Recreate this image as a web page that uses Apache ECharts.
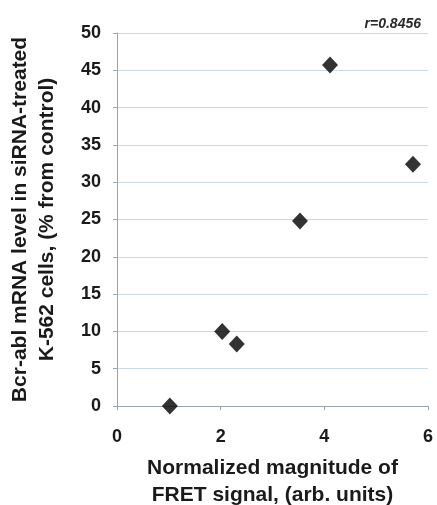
<!DOCTYPE html>
<html><head><meta charset="utf-8">
<script src="https://cdn.jsdelivr.net/npm/echarts@6/dist/echarts.min.js"></script>
<style>html,body{margin:0;padding:0;background:#fff}#c{width:437px;height:505px}</style>
</head><body><div id="c"></div>
<script>
const xValues = [1.02, 2.03, 2.31, 3.53, 4.11, 5.71];
const yValues = [0, 10.0, 8.3, 24.8, 45.7, 32.4];
const xTicks = [0, 2, 4, 6];
const yTicks = [0, 5, 10, 15, 20, 25, 30, 35, 40, 45, 50];
const xTitle = 'Normalized magnitude of\nFRET signal, (arb. units)';
const yTitle = 'Bcr-abl mRNA level in siRNA-treated\nK-562 cells, (% from control)';
const rText = 'r=0.8456';

const chart = echarts.init(document.getElementById('c'), null, {renderer: 'canvas'});
const font = 'Liberation Sans, Arial, sans-serif';
chart.setOption({
  animation: false,
  backgroundColor: '#fff',
  grid: {left: 117, right: 9, top: 33, bottom: 99, containLabel: false, outerBoundsMode: 'none'},
  title: {text: rText, right: 11, top: 12,
    textStyle: {fontFamily: font, fontSize: 14, fontStyle: 'italic', fontWeight: 'bold', color: '#2a2a2a'}},
  xAxis: {
    type: 'value', min: xTicks[0], max: xTicks[xTicks.length-1], interval: 2,
    name: xTitle, nameLocation: 'middle', nameGap: 49,
    nameTextStyle: {fontFamily: font, fontSize: 21, fontWeight: 'bold', color: '#1a1a1a', lineHeight: 27},
    axisLine: {show: true, lineStyle: {color: '#9aa3ad', width: 1}},
    axisTick: {show: true, length: 4, lineStyle: {color: '#9aa3ad'}},
    axisLabel: {fontFamily: font, fontSize: 18, fontWeight: 'bold', color: '#1a1a1a', margin: 22},
    splitLine: {show: false}
  },
  yAxis: {
    type: 'value', min: yTicks[0], max: yTicks[yTicks.length-1], interval: 5,
    name: yTitle, nameLocation: 'middle', nameGap: 56, nameRotate: 90,
    nameTextStyle: {fontFamily: font, fontSize: 21, fontWeight: 'bold', color: '#1a1a1a', lineHeight: 27},
    axisLine: {show: true, lineStyle: {color: '#9aa3ad', width: 1}},
    axisTick: {show: true, length: 4, lineStyle: {color: '#9aa3ad'}},
    axisLabel: {fontFamily: font, fontSize: 18, fontWeight: 'bold', color: '#1a1a1a', margin: 16},
    splitLine: {show: true, lineStyle: {color: '#c9dbe8', width: 1}}
  },
  series: [{
    type: 'scatter',
    data: xValues.map((x, i) => [x, yValues[i]]),
    symbol: 'diamond', symbolSize: [16, 17],
    itemStyle: {color: '#000'}
  }]
});
</script></body></html>
